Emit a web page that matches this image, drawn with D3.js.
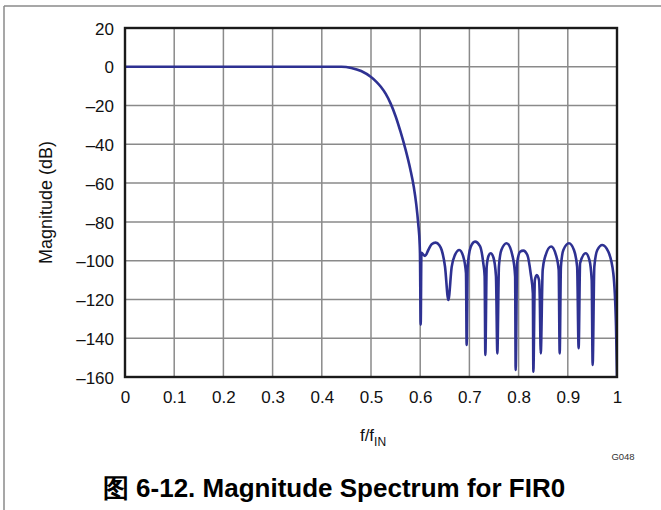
<!DOCTYPE html>
<html><head><meta charset="utf-8">
<script src="https://cdn.jsdelivr.net/npm/d3@7"></script>
<style>
html,body{margin:0;padding:0;background:#fff;}
svg{display:block;font-family:"Liberation Sans",Arial,sans-serif;}
</style></head>
<body>
<svg id="chart" width="661" height="510"></svg>
<script>
// Frequency (f/fIN) and magnitude (dB)
const freq = [0,0.1,0.2,0.3,0.4,0.44,0.46,0.48,0.50,0.51,0.52,0.53,0.54,0.55,0.56,0.57,0.58,0.587,0.592,0.596,0.599,0.5995,0.601,0.6025,0.6098,0.6165,0.6233,0.6314,0.6389,0.6436,0.6504,0.6572,0.664,0.6707,0.6795,0.6876,0.6931,0.6944,0.6965,0.7026,0.7114,0.7215,0.7283,0.7310,0.7324,0.7351,0.7390,0.7432,0.7490,0.7540,0.7568,0.7600,0.7650,0.7757,0.788,0.793,0.794,0.797,0.803,0.8095,0.8178,0.8245,0.829,0.830,0.833,0.837,0.8415,0.843,0.845,0.849,0.854,0.866,0.876,0.8815,0.8835,0.886,0.891,0.9024,0.9125,0.919,0.922,0.925,0.9364,0.944,0.9486,0.9505,0.9539,0.960,0.9702,0.9824,0.9925,0.998,1.0];
const magDb = [0,0,0,0,0,0,-0.6,-2.2,-5.3,-7.5,-10.3,-14,-19,-25.5,-33.5,-42.5,-53,-62,-71,-81,-92,-96,-133,-96,-97.6,-94.5,-91.5,-90.7,-92,-94.5,-103,-120.3,-103.2,-97,-94.5,-97.9,-106.5,-143.5,-103,-93,-90.2,-92.5,-101.4,-108,-148.6,-103.2,-97.5,-96.2,-98.5,-108,-147.8,-103,-94.5,-91.0,-97.9,-108.2,-156.4,-101.3,-95.4,-94.8,-97.1,-106.5,-116.8,-157.3,-110,-107.4,-110,-118.5,-147.8,-104.8,-97.9,-92.7,-97.1,-104.8,-147.8,-103.2,-94.5,-91.0,-94.5,-103.2,-145.2,-101.3,-96.2,-99.7,-110,-153.8,-103.2,-94.5,-91.9,-95.4,-106.5,-134,-160];
const xTicks = [0,0.1,0.2,0.3,0.4,0.5,0.6,0.7,0.8,0.9,1];
const yTicks = [20,0,-20,-40,-60,-80,-100,-120,-140,-160];
const xTickLabels = ["0","0.1","0.2","0.3","0.4","0.5","0.6","0.7","0.8","0.9","1"];
const yTickLabels = ["20","0","–20","–40","–60","–80","–100","–120","–140","–160"];

const svg = d3.select("#chart");
const L = 125, R = 617, T = 28, B = 377;
const x = d3.scaleLinear().domain([0,1]).range([L,R]);
const y = d3.scaleLinear().domain([-160,20]).range([B,T]);

// outer frame (top and left edges)
svg.append("line").attr("x1",4).attr("y1",6).attr("x2",661).attr("y2",6).attr("stroke","#8a8a8a").attr("stroke-width",1.5);
svg.append("line").attr("x1",4).attr("y1",6).attr("x2",4).attr("y2",510).attr("stroke","#8a8a8a").attr("stroke-width",1.5);

// grid
const grid = svg.append("g");
grid.selectAll(".vx").data(xTicks.slice(1,-1)).join("line")
  .attr("x1",d=>x(d)).attr("x2",d=>x(d)).attr("y1",T).attr("y2",B)
  .attr("stroke","#8a8a8a").attr("stroke-width",1.5);
grid.selectAll(".hy").data(yTicks.slice(1,-1)).join("line")
  .attr("y1",d=>y(d)).attr("y2",d=>y(d)).attr("x1",L).attr("x2",R)
  .attr("stroke","#8a8a8a").attr("stroke-width",1.5);

// axes (labels only)
const xAxis = d3.axisBottom(x).tickValues(xTicks).tickSize(0).tickPadding(0)
  .tickFormat((d,i)=>xTickLabels[i]);
const gx = svg.append("g").attr("transform",`translate(0,${B})`).call(xAxis);
gx.select(".domain").remove();
gx.selectAll("text").attr("font-size",17).attr("fill","#111").attr("dy",null).attr("y",26);

const yAxis = d3.axisLeft(y).tickValues(yTicks).tickSize(0).tickPadding(0)
  .tickFormat((d,i)=>yTickLabels[i]);
const gy = svg.append("g").attr("transform",`translate(${L-11},0)`).call(yAxis);
gy.select(".domain").remove();
gy.selectAll("text").attr("font-size",17).attr("fill","#111").attr("dy","0.36em");

// clip
svg.append("clipPath").attr("id","clip").append("rect")
  .attr("x",L).attr("y",T).attr("width",R-L).attr("height",B-T);

const data = freq.map((f,i)=>[f,magDb[i]]);
const line = d3.line().x(d=>x(d[0])).y(d=>y(d[1])).curve(d3.curveMonotoneX);
svg.append("path").datum(data).attr("d",line)
  .attr("clip-path","url(#clip)")
  .attr("fill","none").attr("stroke","#2e3192").attr("stroke-width",2.6)
  .attr("stroke-linejoin","round");

// plot border
svg.append("rect").attr("x",L).attr("y",T).attr("width",R-L).attr("height",B-T)
  .attr("fill","none").attr("stroke","#1a1a1a").attr("stroke-width",2.4);

// axis titles
svg.append("text").attr("transform",`translate(52,${(T+B)/2}) rotate(-90)`)
  .attr("text-anchor","middle").attr("font-size",18).attr("fill","#111")
  .text("Magnitude (dB)");
const xt = svg.append("text").attr("x",373).attr("y",441).attr("text-anchor","middle")
  .attr("font-size",17).attr("fill","#111");
xt.append("tspan").text("f/f");
xt.append("tspan").attr("font-size",12).attr("dy",5).text("IN");

svg.append("text").attr("x",623).attr("y",460).attr("text-anchor","middle")
  .attr("font-size",9.5).attr("fill","#333").text("G048");

// caption
svg.append("text").attr("x",334).attr("y",497).attr("text-anchor","middle")
  .attr("font-size",26).attr("font-weight","bold").attr("fill","#000")
  .text("图 6-12. Magnitude Spectrum for FIR0");
</script>
</body></html>
